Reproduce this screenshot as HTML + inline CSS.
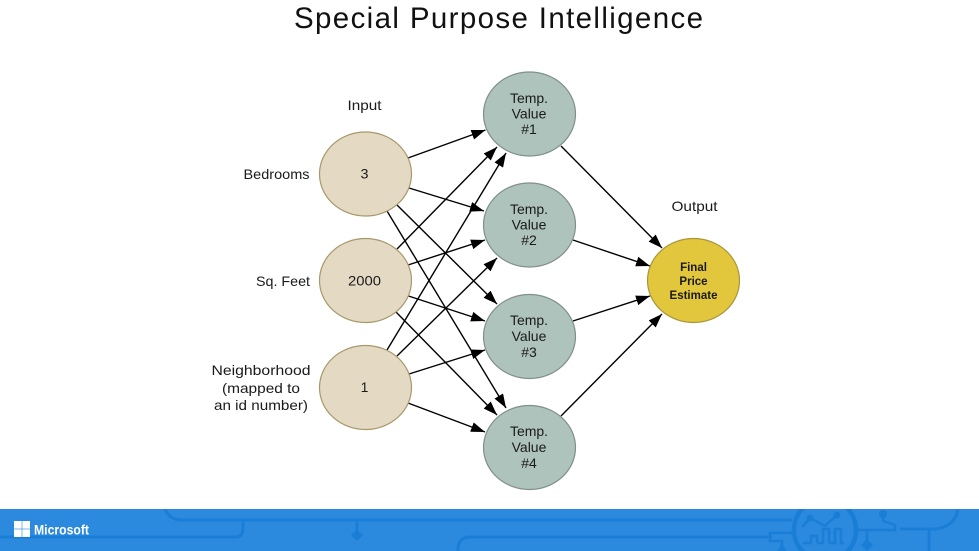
<!DOCTYPE html>
<html><head><meta charset="utf-8"><style>
html,body{margin:0;padding:0;background:#fff;width:979px;height:551px;overflow:hidden}
svg{display:block}
text{font-family:"Liberation Sans",sans-serif;fill:#1a1a1a}
.c{text-anchor:middle}
</style></head><body>
<svg width="979" height="551" viewBox="0 0 979 551" xmlns="http://www.w3.org/2000/svg">
<defs>
<marker id="a" markerUnits="userSpaceOnUse" markerWidth="15" markerHeight="12" refX="14" refY="5" orient="auto"><path d="M0,0 L14,5 L0,10 Z" fill="#000"/></marker>
<clipPath id="f"><rect x="0" y="509" width="979" height="42"/></clipPath>
</defs>
<rect width="979" height="551" fill="#fff"/>
<text x="498.5" y="28" class="c" font-size="29.500" textLength="409" lengthAdjust="spacing" style="fill:#111">Special Purpose Intelligence</text>

<g stroke="#000" stroke-width="1.4" fill="none">
<line x1="408" y1="158" x2="485.5" y2="130" marker-end="url(#a)"/>
<line x1="409" y1="188" x2="484" y2="211" marker-end="url(#a)"/>
<line x1="397" y1="205" x2="497" y2="304" marker-end="url(#a)"/>
<line x1="387" y1="211" x2="506" y2="408" marker-end="url(#a)"/>
<line x1="397" y1="249" x2="497" y2="147" marker-end="url(#a)"/>
<line x1="408" y1="265" x2="485" y2="240" marker-end="url(#a)"/>
<line x1="408.5" y1="296" x2="485" y2="321" marker-end="url(#a)"/>
<line x1="396" y1="312" x2="497" y2="415" marker-end="url(#a)"/>
<line x1="387" y1="350" x2="506" y2="153" marker-end="url(#a)"/>
<line x1="397" y1="356" x2="497" y2="258" marker-end="url(#a)"/>
<line x1="409" y1="374" x2="485" y2="350" marker-end="url(#a)"/>
<line x1="408" y1="403" x2="485" y2="432" marker-end="url(#a)"/>
<line x1="561" y1="146" x2="662" y2="248" marker-end="url(#a)"/>
<line x1="573" y1="240" x2="650" y2="266" marker-end="url(#a)"/>
<line x1="573" y1="321" x2="650" y2="296" marker-end="url(#a)"/>
<line x1="561" y1="416" x2="662" y2="314" marker-end="url(#a)"/>
</g>

<g fill="#e4dac3" stroke="#a8976a" stroke-width="1.2">
<ellipse cx="365.5" cy="174" rx="46" ry="42"/>
<ellipse cx="365.5" cy="280.5" rx="46" ry="42"/>
<ellipse cx="365.5" cy="387.5" rx="46" ry="42"/>
</g>
<g fill="#aec3bc" stroke="#7f8f8a" stroke-width="1.2">
<ellipse cx="529.5" cy="114" rx="46" ry="42"/>
<ellipse cx="529.5" cy="225" rx="46" ry="42"/>
<ellipse cx="529.5" cy="336.5" rx="46" ry="42"/>
<ellipse cx="529.5" cy="447.5" rx="46" ry="42"/>
</g>
<ellipse cx="693.5" cy="280.5" rx="46" ry="42" fill="#e2c63c" stroke="#a8963c" stroke-width="1.2"/>

<g font-size="14">
<text x="364.5" y="110" class="c" textLength="34" lengthAdjust="spacingAndGlyphs">Input</text>
<text x="276.5" y="179" class="c" textLength="66" lengthAdjust="spacingAndGlyphs">Bedrooms</text>
<text x="283" y="286" class="c" textLength="54" lengthAdjust="spacingAndGlyphs">Sq. Feet</text>
<text x="261" y="375" class="c" textLength="99" lengthAdjust="spacingAndGlyphs">Neighborhood</text>
<text x="261" y="393" class="c" textLength="78" lengthAdjust="spacingAndGlyphs">(mapped to</text>
<text x="261" y="410" class="c" textLength="94" lengthAdjust="spacingAndGlyphs">an id number)</text>
<text x="694.5" y="211" class="c" textLength="46" lengthAdjust="spacingAndGlyphs">Output</text>
<text x="364.5" y="178.500" class="c" textLength="8" lengthAdjust="spacingAndGlyphs">3</text>
<text x="364.5" y="285.500" class="c" textLength="33" lengthAdjust="spacingAndGlyphs">2000</text>
<text x="364.5" y="392" class="c">1</text>
</g>

<g font-size="14" text-anchor="middle">
<text x="529" y="103">Temp.</text><text x="529" y="118.500">Value</text><text x="529" y="134">#1</text>
<text x="529" y="214">Temp.</text><text x="529" y="229.500">Value</text><text x="529" y="245">#2</text>
<text x="529" y="325">Temp.</text><text x="529" y="341">Value</text><text x="529" y="357">#3</text>
<text x="529" y="436">Temp.</text><text x="529" y="452">Value</text><text x="529" y="468">#4</text>
</g>
<g font-size="11.500" font-weight="bold" text-anchor="middle">
<text x="693.500" y="271">Final</text>
<text x="693.500" y="285">Price</text>
<text x="693.500" y="299">Estimate</text>
</g>

<rect x="0" y="509" width="979" height="42" fill="#2b8ade"/>
<g clip-path="url(#f)" fill="none" stroke="#1a7dd6" stroke-width="3">
<path d="M164,505 Q167,520 182,520 L792,520"/>
<path d="M0,537 L235,537 Q243,537 243,528 L243,520"/>
<path d="M357,520 L357,535"/>
<path d="M458,551 L458,548 Q459,537 470,537 L772,537"/>
<path d="M792,533 L770,533 L770,541 L782,541 L782,547" stroke-width="2.500"/>
<circle cx="825" cy="530" r="31" stroke-width="4.500"/>
<path d="M802,527 L810,518 L825,526 L837,515" stroke-width="2.500"/>
<path d="M803,543 L811,543 L811,536 L817,536 L817,543 M817,543 L823,543 L823,529 L829,529 L829,543 M829,543 L835,543 L835,529 L841,529 L841,543 L844,543" stroke-width="2.500"/>
<path d="M856,530 L895,530 L895,525 L883,521 L883,514" stroke-width="2.500"/>
<path d="M900,529 L935,529 Q955,527 958,509"/>
<path d="M929,529 L929,551"/>
<path d="M867,530 L867,545" stroke-width="2.500"/>
</g>
<g fill="#1a7dd6">
<path d="M357,530 L363,535 L357,541 L351,535 Z"/>
<path d="M867,539 L873,545 L867,551 L861,545 Z"/>
<path d="M782,544 L787,551 L777,551 Z"/>
<circle cx="883" cy="514" r="4"/>
<circle cx="837" cy="515" r="3.500"/>
<circle cx="810" cy="518" r="3.500"/>
</g>
<g fill="#fff">
<rect x="14" y="521" width="7.700" height="7.700"/>
<rect x="22.300" y="521" width="7.700" height="7.700"/>
<rect x="14" y="529.300" width="7.700" height="7.700"/>
<rect x="22.300" y="529.300" width="7.700" height="7.700"/>
</g>
<text x="34" y="534.500" font-size="13.500" font-weight="bold" textLength="55" lengthAdjust="spacingAndGlyphs" style="fill:#fff">Microsoft</text>
</svg>
</body></html>
